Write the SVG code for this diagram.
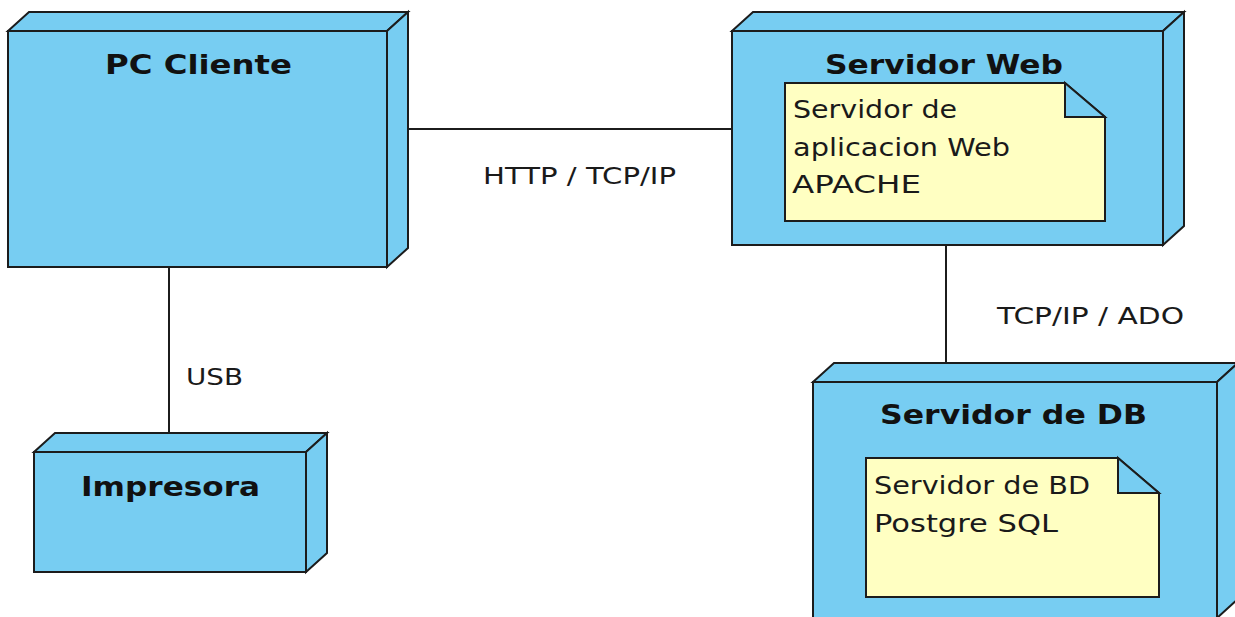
<svg xmlns="http://www.w3.org/2000/svg" width="1235" height="617" viewBox="0 0 1235 617">
  <style>
    .face { fill: #77cdf2; stroke: #1c1c1c; stroke-width: 2; stroke-linejoin: miter; }
    .note { fill: #ffffc2; stroke: #1c1c1c; stroke-width: 2; }
    .fold { fill: #77cdf2; stroke: #1c1c1c; stroke-width: 2; }
    .link { stroke: #1c1c1c; stroke-width: 2; fill: none; }
    .title { font-family: "DejaVu Sans", "Liberation Sans", sans-serif; font-weight: bold; font-size: 27px; fill: #111; }
    .body { font-family: "DejaVu Sans", "Liberation Sans", sans-serif; font-size: 25px; fill: #1a1a1a; }
    .label { font-family: "DejaVu Sans", "Liberation Sans", sans-serif; font-size: 23px; fill: #1a1a1a; }
  </style>
  <rect width="1235" height="617" fill="#ffffff"/>

  <!-- connectors -->
  <g id="connectors">
    <line class="link" x1="408" y1="129" x2="732" y2="129"/>
    <line class="link" x1="169" y1="267" x2="169" y2="433"/>
    <line class="link" x1="946" y1="245" x2="946" y2="363"/>
    <text class="label" x="483" y="184" textLength="193" lengthAdjust="spacingAndGlyphs">HTTP / TCP/IP</text>
    <text class="label" x="186" y="385" textLength="57" lengthAdjust="spacingAndGlyphs">USB</text>
    <text class="label" x="997" y="324" textLength="187" lengthAdjust="spacingAndGlyphs">TCP/IP / ADO</text>
  </g>

  <!-- PC Cliente -->
  <g id="pc-cliente">
    <polygon class="face" points="8,31 29,12 408,12 387,31"/>
    <polygon class="face" points="387,31 408,12 408,248 387,267"/>
    <rect class="face" x="8" y="31" width="379" height="236"/>
    <text class="title" x="105" y="74" textLength="187" lengthAdjust="spacingAndGlyphs">PC Cliente</text>
  </g>

  <!-- Servidor Web -->
  <g id="servidor-web">
    <polygon class="face" points="732,31 753,12 1184,12 1163,31"/>
    <polygon class="face" points="1163,31 1184,12 1184,226 1163,245"/>
    <rect class="face" x="732" y="31" width="431" height="214"/>
    <text class="title" x="825" y="74" textLength="238" lengthAdjust="spacingAndGlyphs">Servidor Web</text>
    <polygon class="note" points="785,83 1065,83 1105,117 1105,221 785,221"/>
    <polygon class="fold" points="1065,83 1105,117 1065,117"/>
    <text class="body" x="793" y="118" textLength="164" lengthAdjust="spacingAndGlyphs">Servidor de</text>
    <text class="body" x="793" y="156" textLength="217" lengthAdjust="spacingAndGlyphs">aplicacion Web</text>
    <text class="body" x="792" y="193" textLength="129" lengthAdjust="spacingAndGlyphs">APACHE</text>
  </g>

  <!-- Impresora -->
  <g id="impresora">
    <polygon class="face" points="34,452 55,433 327,433 306,452"/>
    <polygon class="face" points="306,452 327,433 327,553 306,572"/>
    <rect class="face" x="34" y="452" width="272" height="120"/>
    <text class="title" x="81" y="496" textLength="179" lengthAdjust="spacingAndGlyphs">Impresora</text>
  </g>

  <!-- Servidor de DB (runs past the lower edge) -->
  <g id="servidor-db">
    <polygon class="face" points="813,382 834,363 1238,363 1217,382"/>
    <polygon class="face" points="1217,382 1238,363 1238,599 1217,618"/>
    <rect class="face" x="813" y="382" width="404" height="237"/>
    <text class="title" x="880" y="424" textLength="267" lengthAdjust="spacingAndGlyphs">Servidor de DB</text>
    <polygon class="note" points="866,458 1118,458 1159,493 1159,597 866,597"/>
    <polygon class="fold" points="1118,458 1159,493 1118,493"/>
    <text class="body" x="874" y="494" textLength="216" lengthAdjust="spacingAndGlyphs">Servidor de BD</text>
    <text class="body" x="874" y="532" textLength="184" lengthAdjust="spacingAndGlyphs">Postgre SQL</text>
  </g>
</svg>
